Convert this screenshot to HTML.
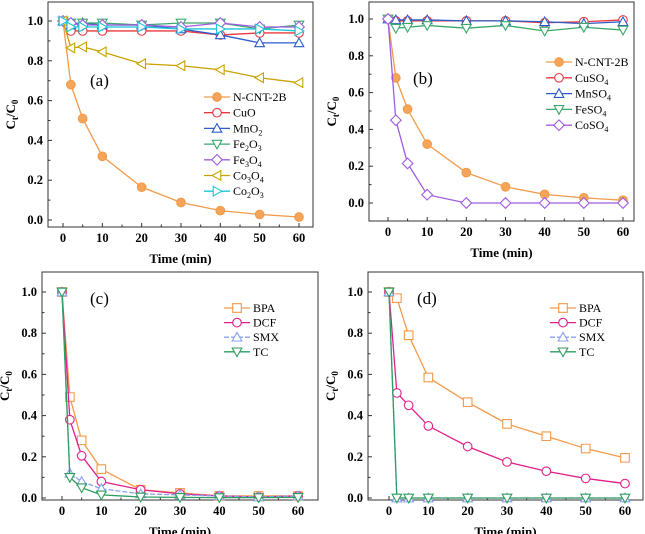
<!DOCTYPE html>
<html><head><meta charset="utf-8">
<style>
html,body{margin:0;padding:0;background:#fff;}
svg{display:block;}
text{font-family:"Liberation Serif","DejaVu Serif",serif;}
.tick{font-size:12.5px;font-weight:bold;font-family:"Liberation Serif",serif;}
.atitle{font-size:13px;font-weight:bold;font-family:"Liberation Serif",serif;}
.leg{font-size:12px;font-family:"Liberation Serif",serif;}
</style></head>
<body>
<svg id="fig" width="645" height="534" viewBox="0 0 645 534"></svg>
<script>
const times = [0,2,5,10,20,30,40,50,60];
const yTicks = [0,0.2,0.4,0.6,0.8,1.0];
const xTicks = [0,10,20,30,40,50,60];
// panel a
const aNames = ["N-CNT-2B","CuO","MnO|2","Fe|2O|3","Fe|3O|4","Co|3O|4","Co|2O|3"];
const aNCNT = [1,0.68,0.51,0.32,0.165,0.088,0.047,0.028,0.015];
const aCuO = [1,0.95,0.95,0.95,0.95,0.95,0.93,0.94,0.94];
const aMnO2 = [1,0.98,0.99,0.98,0.98,0.96,0.93,0.89,0.89];
const aFe2O3 = [1,0.99,0.99,0.99,0.98,0.99,0.99,0.96,0.98];
const aFe3O4 = [1,0.99,0.98,0.98,0.98,0.97,0.99,0.97,0.97];
const aCo3O4 = [1,0.865,0.87,0.845,0.785,0.775,0.755,0.715,0.69];
const aCo2O3 = [1,0.97,0.97,0.97,0.97,0.96,0.96,0.96,0.95];
// panel b
const bNames = ["N-CNT-2B","CuSO|4","MnSO|4","FeSO|4","CoSO|4"];
const bNCNT = [1,0.68,0.51,0.32,0.165,0.088,0.047,0.028,0.015];
const bCuSO4 = [1,0.99,0.99,0.99,0.99,0.99,0.98,0.985,0.995];
const bMnSO4 = [1,0.995,0.995,0.995,0.99,0.99,0.985,0.975,0.985];
const bFeSO4 = [1,0.95,0.955,0.965,0.95,0.965,0.935,0.955,0.94];
const bCoSO4 = [1,0.45,0.215,0.045,0,0,0,0,0];
// panel c
const cNames = ["BPA","DCF","SMX","TC"];
const cBPA = [1,0.49,0.28,0.14,0.04,0.025,0.01,0.01,0.01];
const cDCF = [1,0.38,0.205,0.08,0.04,0.02,0.01,0.005,0.01];
const cSMX = [1,0.12,0.08,0.045,0.02,0.015,0.01,0.005,0.01];
const cTC = [1,0.1,0.05,0.015,0.005,0.003,0.002,0.002,0.003];
// panel d
const dNames = ["BPA","DCF","SMX","TC"];
const dBPA = [1,0.97,0.79,0.585,0.465,0.36,0.30,0.24,0.195];
const dDCF = [1,0.51,0.45,0.35,0.25,0.175,0.13,0.095,0.07];
const dSMX = [1,0,0,0,0,0,0,0,0];
const dTC = [1,0,0,0,0,0,0,0,0];

const NS="http://www.w3.org/2000/svg";
const svg=document.getElementById('fig');
function mk(tag,attrs,parent){const e=document.createElementNS(NS,tag);for(const k in attrs)e.setAttribute(k,attrs[k]);(parent||svg).appendChild(e);return e;}
function richText(t,str){
  const parts=str.split('|');
  parts.forEach((p,i)=>{
    if(i===0){const s=mk('tspan',{},t);s.textContent=p;return;}
    const sub=mk('tspan',{'font-size':'8','dy':'3'},t);sub.textContent=p[0];
    const rest=mk('tspan',{'dy':'-3'},t);rest.textContent=p.slice(1);
  });
}
function marker(g,shape,x,y,col){
  const r=4.3;let e;
  if(shape==='circle'||shape==='fcircle'){e=mk('circle',{cx:x,cy:y,r:r,fill:shape==='fcircle'?'#f5a55a':'#fff',stroke:col,'stroke-width':1.1},g);}
  else{
    let pts;
    if(shape==='up')pts=[[0,-r-0.5],[r+0.5,r-0.5],[-r-0.5,r-0.5]];
    if(shape==='down')pts=[[0,r+0.5],[r+0.5,-r+0.5],[-r-0.5,-r+0.5]];
    if(shape==='diamond')pts=[[0,-r-1],[r+1,0],[0,r+1],[-r-1,0]];
    if(shape==='left')pts=[[-r-0.5,0],[r-0.5,-r-0.5],[r-0.5,r+0.5]];
    if(shape==='right')pts=[[r+0.5,0],[-r+0.5,-r-0.5],[-r+0.5,r+0.5]];
    if(shape==='square')pts=[[-r,-r],[r,-r],[r,r],[-r,r]];
    e=mk('polygon',{points:pts.map(p=>(x+p[0])+','+(y+p[1])).join(' '),fill:'#fff',stroke:col,'stroke-width':1.1},g);
  }
  return e;
}
const SERIF='"Liberation Serif", serif';
function panel(cfg){
  const g=mk('g',{'font-family':SERIF});
  
  
  const X=v=>cfg.x0+(v-0)*(cfg.x60-cfg.x0)/60;
  const Y=v=>cfg.y0+(v)*(cfg.y1-cfg.y0);
  const box=mk('rect',{x:cfg.L,y:cfg.T,width:cfg.R-cfg.L,height:cfg.B-cfg.T,fill:'none',stroke:'#333','stroke-width':1},g);
  
  yTicks.forEach(v=>{
    const y=Y(v);
    mk('line',{x1:cfg.L,x2:cfg.L+4,y1:y,y2:y,stroke:'#333'},g);
    const t=mk('text',{x:cfg.L-5,y:y+4,'text-anchor':'end',class:'tick','font-family':SERIF},g);t.textContent=v.toFixed(1);
    
    const ym=Y(v+0.1); if(v<1 && ym>cfg.T) mk('line',{x1:cfg.L,x2:cfg.L+2.5,y1:ym,y2:ym,stroke:'#333'},g);
  });
  xTicks.forEach(v=>{
    const x=X(v);
    mk('line',{x1:x,x2:x,y1:cfg.B,y2:cfg.B-4,stroke:'#333'},g);
    const t=mk('text',{x:x,y:cfg.B+15,'text-anchor':'middle',class:'tick','font-family':SERIF},g);t.textContent=v;
    
    if(v<60){const xm=X(v+5);mk('line',{x1:xm,x2:xm,y1:cfg.B,y2:cfg.B-2.5,stroke:'#333'},g);}
  });
  const xt=mk('text',{x:(cfg.L+cfg.R)/2,y:cfg.B+36,'text-anchor':'middle',class:'atitle','font-family':SERIF},g);xt.textContent='Time (min)';
  
  const yx=cfg.L-33, yy=(cfg.T+cfg.B)/2;
  const yt=mk('text',{x:yx,y:yy,'text-anchor':'middle',class:'atitle','font-family':SERIF,transform:`rotate(-90 ${yx} ${yy})`},g);
  
  const s1=mk('tspan',{},yt);s1.textContent='C';
  const s2=mk('tspan',{'font-size':'9',dy:'3'},yt);s2.textContent='t';
  const s3=mk('tspan',{dy:'-3'},yt);s3.textContent='/C';
  const s4=mk('tspan',{'font-size':'9',dy:'3'},yt);s4.textContent='0';
  const pl=mk('text',{x:cfg.lblX,y:cfg.lblY,'font-size':'17','font-family':SERIF},g);pl.textContent='('+cfg.id+')';
  
  cfg.series.forEach((s,i)=>{
    const sg=mk('g',{},g);
    
    
    mk('polyline',{points:times.map((t,j)=>X(t)+','+Y(s.data[j])).join(' '),fill:'none',stroke:s.col,'stroke-width':1.3,'stroke-dasharray':s.dash||'none'},sg);
    times.forEach((t,j)=>{const m=marker(sg,s.shape,X(t),Y(s.data[j]),s.col);
      });
    const ly=cfg.legY+i*cfg.legDy;
    const lg=mk('g',{},g);
    
    mk('line',{x1:cfg.legX,x2:cfg.legX+26,y1:ly,y2:ly,stroke:s.col,'stroke-width':1.3,'stroke-dasharray':s.dash||'none'},lg);
    marker(lg,s.shape,cfg.legX+13,ly,s.col);
    const tx=mk('text',{x:cfg.legX+29,y:ly+4,class:'leg','font-family':SERIF},lg);richText(tx,s.name);
  });
}
const OR='#f39a4a',RED='#e8393f',BLU='#2b5cc8',GRN='#3aa86a',PUR='#a05ce0',GLD='#c9a200',CYN='#1ec4d6',MAG='#e0208a',LBL='#8aa0f0',DGR='#2e9e5e';
panel({id:'a',L:48,R:313,T:2,B:227,x0:63,x60:299,y0:220,y1:21,lblX:90,lblY:86,legX:204,legY:97,legDy:15.7,
 series:[{name:aNames[0],data:aNCNT,col:OR,shape:'fcircle'},{name:aNames[1],data:aCuO,col:RED,shape:'circle'},
 {name:aNames[2],data:aMnO2,col:BLU,shape:'up'},{name:aNames[3],data:aFe2O3,col:GRN,shape:'down'},
 {name:aNames[4],data:aFe3O4,col:PUR,shape:'diamond'},{name:aNames[5],data:aCo3O4,col:GLD,shape:'left'},
 {name:aNames[6],data:aCo2O3,col:CYN,shape:'right'}]});
panel({id:'b',L:369,R:634,T:2,B:221,x0:388,x60:623,y0:203,y1:19,lblX:413,lblY:84,legX:546,legY:62,legDy:15.8,
 series:[{name:bNames[0],data:bNCNT,col:OR,shape:'fcircle'},{name:bNames[1],data:bCuSO4,col:RED,shape:'circle'},
 {name:bNames[2],data:bMnSO4,col:BLU,shape:'up'},{name:bNames[3],data:bFeSO4,col:GRN,shape:'down'},
 {name:bNames[4],data:bCoSO4,col:PUR,shape:'diamond'}]});
panel({id:'c',L:42,R:318,T:272,B:500,x0:62,x60:298,y0:498,y1:292,lblX:90,lblY:304,legX:224,legY:308,legDy:14.6,
 series:[{name:cNames[0],data:cBPA,col:OR,shape:'square'},{name:cNames[1],data:cDCF,col:MAG,shape:'circle'},
 {name:cNames[2],data:cSMX,col:LBL,shape:'up',dash:'5,2'},{name:cNames[3],data:cTC,col:DGR,shape:'down'}]});
panel({id:'d',L:368,R:643,T:272,B:500,x0:389,x60:625,y0:498,y1:292,lblX:417,lblY:304,legX:550,legY:308,legDy:14.6,
 series:[{name:dNames[0],data:dBPA,col:OR,shape:'square'},{name:dNames[1],data:dDCF,col:MAG,shape:'circle'},
 {name:dNames[2],data:dSMX,col:LBL,shape:'up',dash:'5,2'},{name:dNames[3],data:dTC,col:DGR,shape:'down'}]});
</script>
</body></html>
